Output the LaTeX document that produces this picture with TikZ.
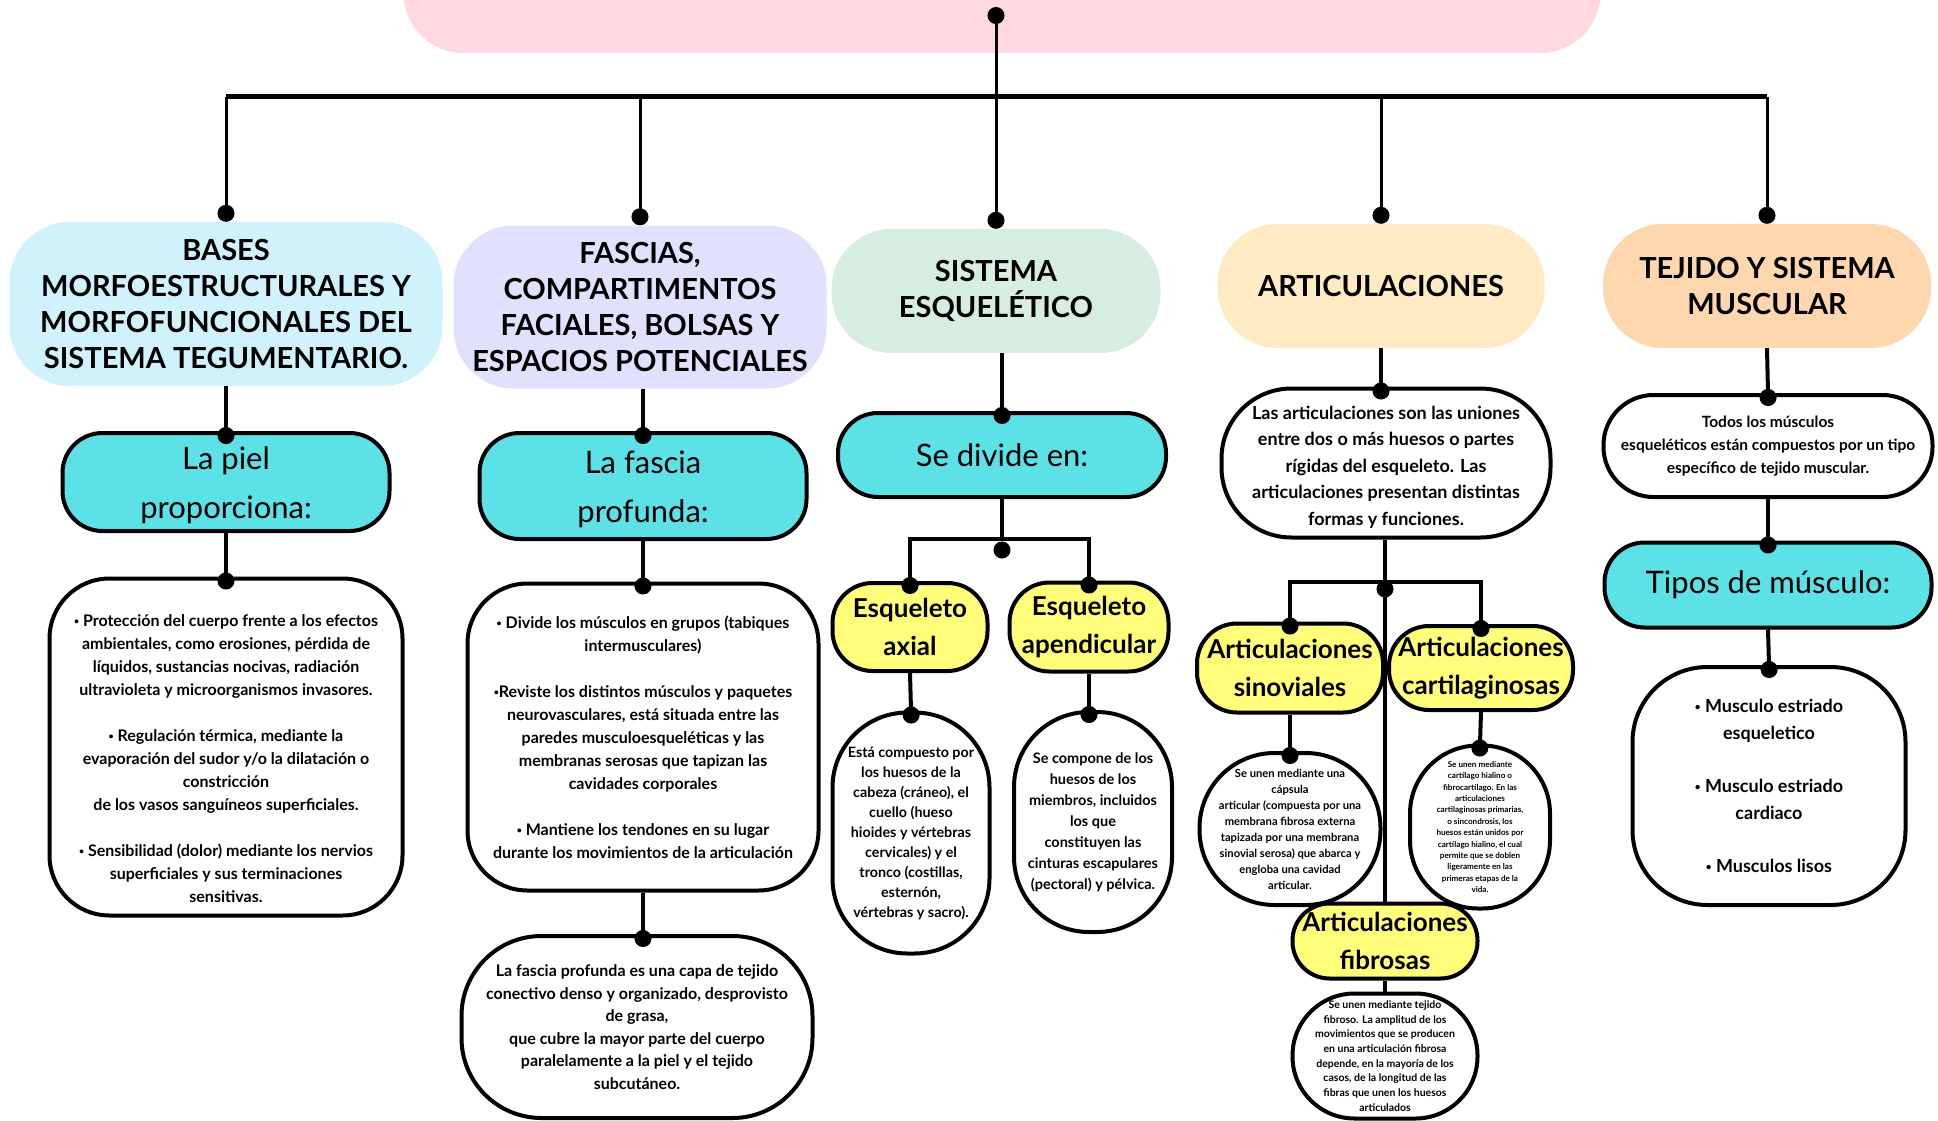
\documentclass[tikz,border=0pt]{standalone}
\usepackage{fontspec}
\setmainfont{Lato}
\usetikzlibrary{arrows.meta, calc}
\definecolor{rosatitulo}{RGB}{255,217,224}
\definecolor{celeste}{RGB}{208,242,253}
\definecolor{lavanda}{RGB}{225,225,253}
\definecolor{menta}{RGB}{214,238,226}
\definecolor{crema}{RGB}{255,235,195}
\definecolor{durazno}{RGB}{255,215,175}
\definecolor{turquesa}{RGB}{92,225,230}
\definecolor{amarillo}{RGB}{255,253,122}
\newcommand{\vineta}{\raisebox{0.25ex}{\scalebox{0.55}{•}}}

\begin{document}
\begin{tikzpicture}[
        x=1pt, y=-1pt,
        titulo/.style={rectangle, fill=rosatitulo, rounded corners=60pt, minimum width=1197pt, minimum height=114pt},
        categoria/.style={rectangle, rounded corners=60pt, align=center, inner sep=0pt, font=\fontsize{29}{36}\selectfont\bfseries},
        pregunta/.style={rectangle, draw=black, line width=4pt, fill=turquesa, rounded corners=40pt, align=center, inner sep=0pt, font=\fontsize{31}{49}\selectfont},
        subtipo/.style={rectangle, draw=black, line width=4pt, fill=amarillo, rounded corners=40pt, align=center, inner sep=0pt, font=\fontsize{26}{38}\selectfont\bfseries},
        nota/.style={rectangle, draw=black, line width=4pt, fill=white, align=center, inner sep=0pt},
        enlace/.style={line width=4pt, -{Circle[length=17pt]}, shorten >=-13pt},
        enlacealto/.style={line width=3pt, -{Circle[length=17pt]}},
        linea/.style={line width=4pt}
    ]
        \useasboundingbox (0,0) rectangle (1938,1121);
        \fill[white] (0,0) rectangle (1938,1121);

        \node[titulo] (titulo) at (1002,-4) {};

        % categorias
        \node[categoria, fill=celeste, minimum width=433pt, minimum height=164pt] (bases) at (226,304) {BASES\\MORFOESTRUCTURALES Y\\MORFOFUNCIONALES DEL\\SISTEMA TEGUMENTARIO.};
        \node[categoria, fill=lavanda, minimum width=373pt, minimum height=163pt] (fascias) at (640,307) {FASCIAS,\\COMPARTIMENTOS\\FACIALES, BOLSAS Y\\ESPACIOS POTENCIALES};
        \node[categoria, fill=menta, minimum width=329pt, minimum height=124pt] (sistema) at (996,291) {SISTEMA\\ESQUELÉTICO};
        \node[categoria, fill=crema, minimum width=327pt, minimum height=124pt] (articulaciones) at (1381,286) {ARTICULACIONES};
        \node[categoria, fill=durazno, minimum width=328pt, minimum height=124pt] (tejido) at (1767,286) {TEJIDO Y SISTEMA\\MUSCULAR};

        \node[pregunta, minimum width=327pt, minimum height=98pt] (piel) at (226,482) {\rule{0pt}{30pt}La piel\\proporciona:};
        \node[pregunta, minimum width=327pt, minimum height=106pt] (fascia) at (643,486) {\rule{0pt}{30pt}La fascia\\profunda:};
        \node[pregunta, minimum width=328pt, minimum height=84pt] (divide) at (1002,455) {Se divide en:};
        \node[pregunta, minimum width=327pt, minimum height=85pt] (tipos) at (1768,585) {Tipos de músculo:};

        \node[nota, minimum width=353pt, minimum height=337pt, rounded corners=60pt, font=\fontsize{16}{23}\selectfont\bfseries] (proteccion) at (226,747) {\rule{0pt}{36pt}\vineta{} Protección del cuerpo frente a los efectos\\ambientales, como erosiones, pérdida de\\líquidos, sustancias nocivas, radiación\\ultravioleta y microorganismos invasores.\\[23pt]\vineta{} Regulación térmica, mediante la\\evaporación del sudor y/o la dilatación o\\constricción\\de los vasos sanguíneos superficiales.\\[23pt]\vineta{} Sensibilidad (dolor) mediante los nervios\\superficiales y sus terminaciones\\sensitivas.};
        \node[nota, minimum width=351pt, minimum height=307pt, rounded corners=60pt, font=\fontsize{16}{23}\selectfont\bfseries] (divisiones) at (643,737) {\vineta{} Divide los músculos en grupos (tabiques\\intermusculares)\\[23pt]\vineta{}Reviste los distintos músculos y paquetes\\neurovasculares, está situada entre las\\paredes musculoesqueléticas y las\\membranas serosas que tapizan las\\cavidades corporales\\[23pt]\vineta{} Mantiene los tendones en su lugar\\durante los movimientos de la articulación};
        \node[nota, minimum width=351pt, minimum height=182pt, rounded corners=80pt, font=\fontsize{16}{22.5}\selectfont\bfseries] (fasciadef) at (637,1027) {La fascia profunda es una capa de tejido\\conectivo denso y organizado, desprovisto\\de grasa,\\que cubre la mayor parte del cuerpo\\paralelamente a la piel y el tejido\\subcutáneo.};

        \node[subtipo, minimum width=155pt, minimum height=88pt] (axial) at (910,627) {Esqueleto\\axial};
        \node[subtipo, minimum width=159pt, minimum height=89pt] (apendicular) at (1089,627) {Esqueleto\\apendicular};
        \node[nota, minimum width=157pt, minimum height=241pt, rounded corners=75pt, font=\fontsize{14.3}{20}\selectfont\bfseries] (axialtexto) at (911,833) {Está compuesto por\\los huesos de la\\cabeza (cráneo), el\\cuello (hueso\\hioides y vértebras\\cervicales) y el\\tronco (costillas,\\esternón,\\vértebras y sacro).};
        \node[nota, minimum width=158pt, minimum height=220pt, rounded corners=75pt, font=\fontsize{14.5}{21}\selectfont\bfseries] (apendtexto) at (1093,822) {Se compone de los\\huesos de los\\miembros, incluidos\\los que\\constituyen las\\cinturas escapulares\\(pectoral) y pélvica.};

        \node[nota, minimum width=329pt, minimum height=149pt, rounded corners=70pt, font=\fontsize{18}{26.5}\selectfont\bfseries] (artdef) at (1386,463) {\rule{0pt}{22pt}Las articulaciones son las uniones\\entre dos o más huesos o partes\\rígidas del esqueleto. Las\\articulaciones presentan distintas\\formas y funciones.};
        \node[subtipo, minimum width=186pt, minimum height=89pt] (sinoviales) at (1290,668) {Articulaciones\\sinoviales};
        \node[subtipo, minimum width=184pt, minimum height=84pt] (cartilaginosas) at (1481,668) {Articulaciones\\cartilaginosas};
        \node[nota, minimum width=181pt, minimum height=152pt, rounded corners=75pt, font=\fontsize{11.2}{16}\selectfont\bfseries] (sinotexto) at (1290,829) {Se unen mediante una\\cápsula\\articular (compuesta por una\\membrana fibrosa externa\\tapizada por una membrana\\sinovial serosa) que abarca y\\engloba una cavidad\\articular.};
        \node[nota, minimum width=140pt, minimum height=163pt, rounded corners=68pt, font=\fontsize{8.1}{11.4}\selectfont\bfseries] (cartitexto) at (1480,827) {Se unen mediante\\cartílago hialino o\\fibrocartílago. En las\\articulaciones\\cartilaginosas primarias,\\o sincondrosis, los\\huesos están unidos por\\cartílago hialino, el cual\\permite que se doblen\\ligeramente en las\\primeras etapas de la\\vida.};
        \node[subtipo, minimum width=185pt, minimum height=75pt, rounded corners=37pt] (fibrosas) at (1385,941) {Articulaciones\\fibrosas};
        \node[nota, minimum width=185pt, minimum height=125pt, rounded corners=62pt, font=\fontsize{10.5}{14.7}\selectfont\bfseries] (fibrotexto) at (1385,1056) {Se unen mediante tejido\\fibroso. La amplitud de los\\movimientos que se producen\\en una articulación fibrosa\\depende, en la mayoría de los\\casos, de la longitud de las\\fibras que unen los huesos\\articulados};

        \node[nota, minimum width=329pt, minimum height=102pt, rounded corners=50pt, font=\fontsize{15.5}{23}\selectfont\bfseries] (musculodef) at (1768,446) {Todos los músculos\\esqueléticos están compuestos por un tipo\\específico de tejido muscular.};
        \node[nota, minimum width=273pt, minimum height=238pt, rounded corners=75pt, font=\fontsize{18}{26.7}\selectfont\bfseries] (listamusculos) at (1769,786) {\vineta{} Musculo estriado\\esqueletico\\[26.7pt]\vineta{} Musculo estriado\\cardiaco\\[26.7pt]\vineta{} Musculos lisos};

        % tronco y barra
        \coordinate (raiz) at (996,7);
        \coordinate (barra) at (0,97);
        \draw[line width=5pt] (bases.north |- barra) -- (tejido.north |- barra);
        \draw[line width=3pt, {Circle[length=17pt]}-{Circle[length=17pt]}] (raiz) -- (sistema.north);
        \draw[enlacealto] (bases.north |- barra) -- (bases.north);
        \draw[enlacealto] (fascias.north |- barra) -- (fascias.north);
        \draw[enlacealto] (articulaciones.north |- barra) -- (articulaciones.north);
        \draw[enlacealto] (tejido.north |- barra) -- (tejido.north);

        \draw[enlace] (bases.south) -- (piel.north);
        \draw[enlace] (piel.south) -- (proteccion.north);
        \draw[enlace] (fascia.north |- fascias.south) -- (fascia.north);
        \draw[enlace] (fascia.south) -- (divisiones.north);
        \draw[enlace] (divisiones.south) -- (divisiones.south |- fasciadef.north);

        \coordinate (division) at (1002,539);
        \draw[enlace] (divide.north |- sistema.south) -- (divide.north);
        \draw[linea] (divide.south) -- (division);
        \draw[enlace] (division) -| (axial.north);
        \draw[enlace] (division) -| (apendicular.north);
        \fill (division) ++(0,11) circle[radius=8.5];
        \draw[enlace] (axial.south) -- (axialtexto.north);
        \draw[enlace] (apendicular.south) -- (apendicular.south |- apendtexto.north);

        \coordinate (uniones) at (1385,582);
        \draw[enlace] (articulaciones.south) -- (articulaciones.south |- artdef.north);
        \draw[linea] (fibrosas.north |- artdef.south) -- (fibrosas.north);
        \draw[enlace] (uniones) -| (sinoviales.north);
        \draw[enlace] (uniones) -| (cartilaginosas.north);
        \fill (uniones) ++(0,7) circle[radius=8.5];
        \draw[enlace] (sinoviales.south) -- (sinotexto.north);
        \draw[enlace] (cartilaginosas.south) -- (cartitexto.north);
        \draw[linea] (fibrosas.south) -- (fibrotexto.north);

        \draw[enlace] (tejido.south) -- (musculodef.north);
        \draw[enlace] (musculodef.south) -- (tipos.north);
        \draw[enlace] (tipos.south) -- (listamusculos.north);
    \end{tikzpicture}
\end{document}
